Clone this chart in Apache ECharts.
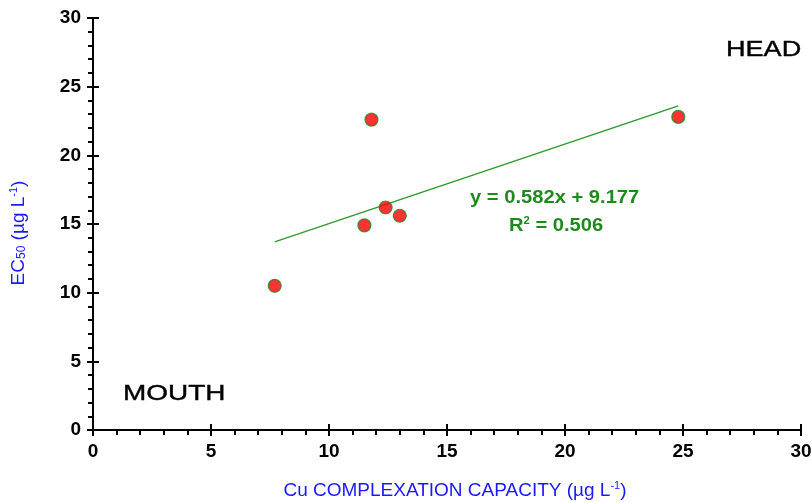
<!DOCTYPE html>
<html>
<head>
<meta charset="utf-8">
<script src="https://cdn.jsdelivr.net/npm/echarts@6/dist/echarts.min.js"></script>
<style>
  html, body { margin: 0; padding: 0; background: #fff; }
  #mychart { width: 812px; height: 502px; }
</style>
</head>
<body>
<div id="mychart"></div>
<script>
"use strict";
// measured points: Cu complexation capacity vs EC50
const capacity = [7.7, 11.5, 11.8, 12.4, 13.0, 24.8];
const ec50 = [10.5, 14.9, 22.6, 16.2, 15.6, 22.8];
// trend line end points as drawn
const trendX = [7.7, 24.8];
const trendY = [13.7, 23.6];
const equationText = 'y = 0.582x + 9.177';
const r2Text = '0.506';

const container = document.getElementById('mychart');
const myChart = echarts.init(container);

const font = 'Arial, "Liberation Sans", sans-serif';
const blue = '#1a1aff';
const green = '#1e8a1e';
const axisCommon = {
    type: 'value',
    min: 0,
    max: 30,
    interval: 5,
    splitLine: { show: false },
    axisLine: { show: true, onZero: false, lineStyle: { color: '#000', width: 2 } },
    axisTick: { show: true, inside: false, length: 6, lineStyle: { color: '#000', width: 2 } },
    minorTick: { show: true, splitNumber: 5, length: 5, lineStyle: { color: '#000', width: 2 } },
    axisLabel: { color: '#000', fontFamily: font, fontWeight: 'bold', fontSize: 19, margin: 12 }
};
// second copy only for the inner half of the major ticks
const innerTicks = {
    type: 'value',
    min: 0,
    max: 30,
    interval: 5,
    splitLine: { show: false },
    axisLine: { show: false, onZero: false },
    axisTick: { show: true, inside: true, length: 6, lineStyle: { color: '#000', width: 2 } },
    axisLabel: { show: false }
};

const option = {
    animation: false,
    backgroundColor: '#fff',
    grid: { left: 93, right: 11, top: 18, bottom: 72, containLabel: false, outerBoundsMode: 'none' },
    xAxis: [
        Object.assign({}, axisCommon, {
            position: 'bottom',
            name: 'Cu COMPLEXATION CAPACITY (µg L{sup|-1})',
            nameLocation: 'middle',
            nameGap: 50,
            nameTextStyle: {
                color: blue, fontFamily: font, fontSize: 19, padding: [0, 0, 0, 16],
                rich: { sup: { fontSize: 11, color: blue, fontFamily: font, padding: [0, 0, 10, 0] } }
            }
        }),
        Object.assign({}, innerTicks, { position: 'bottom' })
    ],
    yAxis: [
        Object.assign({}, axisCommon, {
            position: 'left',
            name: 'EC{sub|50} (µg L{sup|-1})',
            nameLocation: 'middle',
            nameGap: 64,
            nameTextStyle: {
                color: blue, fontFamily: font, fontSize: 19, padding: [0, 18, 0, 0],
                rich: {
                    sub: { fontSize: 12, color: blue, fontFamily: font, padding: [6, 0, 0, 0] },
                    sup: { fontSize: 11, color: blue, fontFamily: font, padding: [0, 0, 10, 0] }
                }
            }
        }),
        Object.assign({}, innerTicks, { position: 'left' })
    ],
    series: [
        {
            type: 'line',
            data: trendX.map((x, i) => [x, trendY[i]]),
            symbol: 'none',
            lineStyle: { color: '#2e9a2e', width: 1.5 },
            z: 2
        },
        {
            type: 'scatter',
            data: capacity.map((x, i) => [x, ec50[i]]),
            symbolSize: 13,
            itemStyle: { color: '#ff0000', borderColor: green, borderWidth: 1.2 },
            z: 3
        }
    ],
    graphic: [
        {
            type: 'text', x: 726, y: 39, scaleX: 1.23,
            style: { text: 'HEAD', fill: '#000', font: '22px ' + font, stroke: '#000', lineWidth: 0.4 }
        },
        {
            type: 'text', x: 123, y: 383, scaleX: 1.27,
            style: { text: 'MOUTH', fill: '#000', font: '22px ' + font, stroke: '#000', lineWidth: 0.4 }
        },
        {
            type: 'text', x: 470, y: 189, scaleX: 1.12,
            style: { text: equationText, fill: green, font: 'bold 18px ' + font }
        },
        {
            type: 'text', x: 509, y: 216, scaleX: 1.12,
            style: {
                text: 'R{s|2} = ' + r2Text, fill: green, font: 'bold 18px ' + font,
                rich: { s: { fill: green, font: 'bold 10px ' + font, padding: [0, 0, 10, 0] } }
            }
        }
    ]
};
myChart.setOption(option);
</script>
</body>
</html>
